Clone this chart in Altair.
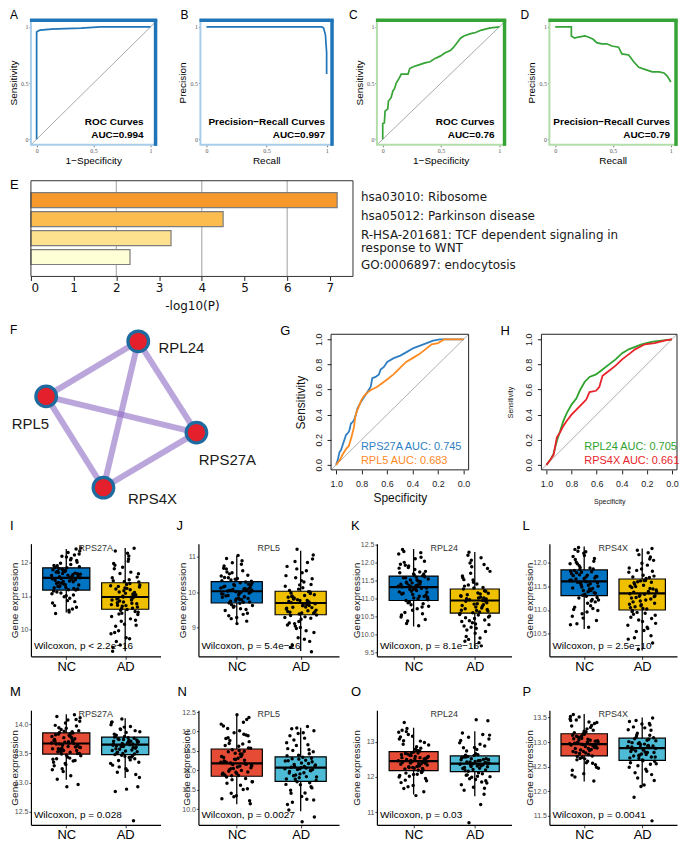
import altair as alt
import pandas as pd

FONT = "Liberation Sans"
ONE = pd.DataFrame({"k": [0]})

# ---------------- Panels A-D (ROC / PR) ----------------
A_FPR = [0, 0, 0.01, 0.03, 0.13, 0.25, 0.39, 0.56, 1.0]
A_TPR = [0, 0.955, 0.962, 0.972, 0.98, 0.985, 0.99, 1.0, 1.0]
B_RECALL = [0, 0.96, 0.975, 0.99, 1.0, 1.0]
B_PRECISION = [1, 1, 0.99, 0.93, 0.77, 0.58]
C_FPR = [0, 0, 0.014, 0.02, 0.043, 0.049, 0.072, 0.087, 0.101, 0.116, 0.145, 0.159, 0.217, 0.232,
         0.261, 0.304, 0.362, 0.406, 0.449, 0.493, 0.536, 0.58, 0.609, 0.638, 0.667, 0.696, 0.754,
         0.797, 0.841, 0.913, 1.0]
C_TPR = [0, 0.14, 0.145, 0.25, 0.27, 0.34, 0.37, 0.43, 0.45, 0.5, 0.55, 0.58, 0.58, 0.63, 0.645,
         0.66, 0.68, 0.69, 0.72, 0.74, 0.77, 0.79, 0.82, 0.86, 0.9, 0.92, 0.94, 0.95, 0.97, 0.99, 1.0]
D_RECALL = [0, 0.14, 0.14, 0.169, 0.2, 0.257, 0.286, 0.329, 0.359, 0.402, 0.446, 0.49, 0.548, 0.577,
            0.636, 0.679, 0.723, 0.781, 0.84, 0.898, 0.942, 0.971, 1.0]
D_PRECISION = [1, 1, 0.92, 0.9, 0.91, 0.92, 0.91, 0.89, 0.86, 0.85, 0.85, 0.83, 0.82, 0.76, 0.75,
               0.69, 0.64, 0.62, 0.6, 0.6, 0.59, 0.56, 0.51]
PERF_DIAG = [-0.05, 1.06]
PERF_TICKS = [0, 0.5, 1]

# ---------------- Panel E (enrichment) ----------------
E_TERMS = ["hsa03010: Ribosome", "hsa05012: Parkinson disease",
           "R-HSA-201681: TCF dependent signaling in\nresponse to WNT", "GO:0006897: endocytosis"]
E_LOG10P = [7.17, 4.5, 3.28, 2.32]
E_COLORS = ["#F7982B", "#FCBD4E", "#FEE18E", "#FFFFD6"]
E_TICKS = [0, 1, 2, 3, 4, 5, 6, 7]
E_GRID = [2, 4, 6]

# ---------------- Panel F (network) ----------------
F_NODES = ["RPL24", "RPL5", "RPS27A", "RPS4X"]
F_NODE_X = [4.72, 0.67, 7.28, 3.19]
F_NODE_Y = [0.31, 2.75, 4.35, 6.79]
F_LABEL_X = [6.62, -0.02, 8.64, 5.35]
F_LABEL_Y = [0.61, 3.99, 5.56, 7.27]
F_EDGES = [("RPL24", "RPL5"), ("RPL24", "RPS27A"), ("RPL24", "RPS4X"),
           ("RPL5", "RPS27A"), ("RPL5", "RPS4X"), ("RPS27A", "RPS4X")]

# ---------------- Panels G, H (ROC, pROC style) ----------------
G_RPS27A_SPEC = [1.0, 0.987, 0.974, 0.961, 0.948, 0.935, 0.922, 0.91, 0.897, 0.884, 0.871, 0.858, 0.845,
                 0.832, 0.806, 0.78, 0.755, 0.729, 0.716, 0.69, 0.664, 0.651, 0.625, 0.599, 0.548, 0.496,
                 0.444, 0.393, 0.341, 0.289, 0.238, 0.186, 0.0]
G_RPS27A_SENS = [0.0, 0.04, 0.10, 0.12, 0.16, 0.2, 0.24, 0.25, 0.27, 0.33, 0.34, 0.36, 0.40, 0.45, 0.50,
                 0.54, 0.58, 0.62, 0.69, 0.70, 0.72, 0.76, 0.78, 0.82, 0.85, 0.87, 0.90, 0.93, 0.95, 0.97,
                 0.99, 1.0, 1.0]
G_RPL5_SPEC = [1.0, 0.97, 0.95, 0.92, 0.9, 0.88, 0.86, 0.85, 0.84, 0.82, 0.8, 0.78, 0.75, 0.72, 0.68,
               0.64, 0.6, 0.55, 0.5, 0.45, 0.4, 0.35, 0.3, 0.25, 0.2, 0.15, 0.0]
G_RPL5_SENS = [0.0, 0.04, 0.08, 0.13, 0.15, 0.22, 0.3, 0.38, 0.42, 0.47, 0.52, 0.55, 0.58, 0.6, 0.62,
               0.65, 0.68, 0.72, 0.77, 0.82, 0.85, 0.88, 0.92, 0.96, 0.97, 1.0, 1.0]
H_RPL24_SPEC = [1.0, 0.969, 0.943, 0.917, 0.891, 0.865, 0.839, 0.8, 0.761, 0.735, 0.696, 0.657, 0.605,
                0.553, 0.501, 0.449, 0.397, 0.345, 0.294, 0.242, 0.164, 0.086, 0.0]
H_RPL24_SENS = [0.0, 0.04, 0.09, 0.19, 0.27, 0.35, 0.41, 0.48, 0.53, 0.59, 0.66, 0.70, 0.72, 0.76, 0.80,
                0.84, 0.89, 0.92, 0.94, 0.96, 0.98, 0.99, 1.0]
H_RPS4X_SPEC = [1.0, 0.969, 0.943, 0.917, 0.891, 0.865, 0.839, 0.8, 0.761, 0.722, 0.683, 0.657, 0.605,
                0.579, 0.553, 0.501, 0.449, 0.397, 0.345, 0.294, 0.216, 0.138, 0.06, 0.0]
H_RPS4X_SENS = [0.0, 0.04, 0.08, 0.22, 0.26, 0.31, 0.35, 0.40, 0.44, 0.48, 0.52, 0.58, 0.59, 0.62, 0.71,
                0.75, 0.79, 0.84, 0.88, 0.92, 0.96, 0.97, 0.99, 1.0]
GH_TICKS = [0, 0.2, 0.4, 0.6, 0.8, 1.0]
GH_DIAG_SPEC = [1.04, -0.04]
GH_DIAG_SENS = [-0.04, 1.04]

# ---------------- Panels I-P (box plots) ----------------
BOX_GROUPS = ["NC", "AD"]
ROW4_COLORS = ["#0073C2", "#EFC000"]
ROW5_COLORS = ["#E64B35", "#4DBBD5"]

I_NC = [11.62, 10.93, 11.41, 12.07, 11.77, 11.25, 10.61, 11.53, 11.88, 12.31, 11.12, 11.69, 11.36, 10.79,
        11.95, 11.58, 11.21, 12.18, 11.47, 11.03, 11.81, 11.66, 10.52, 11.29, 12.42, 11.74, 11.15, 11.51,
        11.99, 11.33, 10.86, 11.72, 12.24, 11.44, 11.07, 11.57, 11.83, 12.02, 11.26, 10.71, 11.64, 11.39,
        12.36, 11.19, 11.91, 11.49, 10.98, 11.79, 12.13, 11.31, 11.6, 11.85, 10.47, 11.23, 11.68, 12.45,
        11.45, 11.71, 10.66, 11.34, 11.92, 11.58, 11.09, 12.27, 11.63, 11.38, 10.83, 11.76, 11.52, 12.09,
        11.28, 11.67, 11.01, 11.86, 11.43, 12.2, 11.55, 10.57, 11.74, 11.18]
I_AD = [10.82, 11.55, 10.31, 11.12, 10.67, 9.74, 11.93, 10.95, 10.48, 11.31, 12.21, 10.72, 11.04, 10.15,
        11.46, 10.88, 9.52, 11.67, 10.59, 11.21, 12.44, 10.99, 10.38, 11.38, 9.95, 10.77, 11.08, 11.82,
        10.63, 10.24, 11.27, 12.05, 10.91, 10.53, 11.16, 9.33, 11.72, 10.85, 10.44, 11.35, 12.36, 11.01,
        10.69, 9.86, 11.49, 10.94, 10.12, 11.24, 11.98, 10.78, 10.57, 11.42, 12.29, 9.63, 11.11, 10.97,
        10.88, 11.19, 10.46, 11.57, 10.71, 9.9, 11.06, 10.62, 11.33, 12.12, 10.8, 10.27, 11.44, 9.45,
        10.96, 11.68, 10.51, 11.23, 10.09, 11.02, 11.87, 10.74, 9.71, 11.29]
J_NC = [10.12, 9.54, 10.41, 9.83, 10.02, 10.68, 9.72, 9.26, 10.21, 9.93, 10.95, 10.07, 9.61, 10.33, 9.79,
        10.52, 9.98, 9.12, 10.17, 9.88, 10.83, 10.26, 9.69, 10.04, 9.41, 10.37, 9.95, 10.61, 9.75, 10.14,
        11.04, 9.9, 10.29, 9.58, 10.46, 10.0, 9.34, 10.23, 9.81, 10.74, 10.09, 9.65, 10.31, 9.97, 10.57,
        9.19, 10.19, 9.86, 10.89, 10.05, 9.73, 10.39, 9.49, 10.11,
        10.08, 9.63, 10.27, 9.91, 10.48, 9.77, 10.15, 9.38, 10.35, 10.01, 9.84, 10.66, 9.52, 10.22, 9.96,
        10.79, 9.7, 10.11, 9.29, 10.42, 9.87, 10.55, 10.06, 9.8]
J_AD = [9.71, 10.22, 9.18, 9.55, 10.61, 9.84, 8.87, 9.42, 10.05, 9.63, 11.21, 9.29, 9.91, 8.51, 10.38,
        9.77, 9.46, 10.84, 9.05, 9.68, 10.13, 9.35, 9.97, 8.72, 10.47, 9.59, 9.81, 11.05, 9.24, 9.74, 10.02,
        8.98, 9.5, 10.29, 9.88, 8.33, 9.39, 10.73, 9.66, 9.12, 9.93, 10.55, 9.44, 8.62, 9.79, 10.17, 9.31,
        9.58, 10.94, 9.01, 9.86, 9.48, 10.41, 9.69,
        9.65, 9.98, 9.27, 10.09, 9.53, 8.92, 9.82, 9.41, 10.33, 9.14, 9.73, 10.66, 9.36, 8.68, 9.9, 9.57,
        10.21, 9.08, 9.77, 10.87, 9.45, 9.62, 8.45, 10.01]
K_NC = [11.35, 10.72, 11.58, 12.04, 11.12, 10.49, 11.41, 11.87, 10.98, 11.27, 12.31, 11.64, 10.83, 11.19,
        11.49, 10.31, 11.76, 11.02, 11.33, 12.15, 10.91, 11.55, 11.23, 10.62, 11.69, 11.44, 11.96, 11.07,
        10.38, 11.3, 11.81, 11.15, 10.77, 11.52, 12.24, 11.38, 10.95, 11.61, 11.26, 10.55, 11.47, 11.91,
        11.04, 11.36, 12.01, 10.86, 11.21, 11.72, 10.25, 11.43, 11.1, 11.66, 12.37, 11.29,
        11.26, 10.79, 11.52, 11.93, 11.06, 10.68, 11.4, 11.74, 10.89, 11.18, 12.11, 11.58, 10.58, 11.33,
        11.85, 11.0, 11.46, 10.42, 11.69, 11.13, 12.28, 11.37, 10.97, 11.6]
K_AD = [10.93, 10.41, 11.52, 10.68, 11.13, 9.87, 11.84, 10.77, 10.24, 11.31, 12.07, 10.56, 11.02, 10.13,
        11.21, 10.85, 11.63, 9.69, 10.97, 10.49, 11.41, 10.72, 11.95, 10.33, 11.08, 10.63, 12.21, 10.89,
        10.04, 11.27, 10.79, 11.71, 10.52, 11.16, 9.95, 10.94, 11.46, 10.37, 11.04, 12.29, 10.66, 10.18,
        11.35, 10.83, 11.89, 10.59, 9.78, 11.11, 10.99, 10.45, 11.58, 10.74, 11.99, 10.28,
        10.86, 10.47, 11.22, 10.61, 11.07, 9.91, 11.38, 10.7, 10.3, 11.53, 10.95, 10.21, 11.76, 10.55,
        11.0, 10.09, 11.3, 10.81, 12.14, 10.39, 11.15, 10.67, 9.82, 11.02]
L_NC = [11.62, 11.14, 11.78, 12.08, 11.41, 10.87, 11.55, 11.93, 11.26, 11.69, 12.27, 11.03, 11.48, 11.81,
        10.64, 11.58, 11.35, 12.14, 11.72, 11.19, 11.89, 11.5, 10.96, 11.65, 12.02, 11.31, 11.76, 11.44,
        12.31, 10.78, 11.6, 11.83, 11.22, 11.53, 11.97, 11.38, 10.71, 11.67, 12.19, 11.46, 11.09, 11.74,
        11.57, 11.29, 12.06, 11.86, 10.92, 11.63, 11.4, 12.23, 11.7, 11.33, 11.01, 11.8,
        11.56, 11.21, 11.73, 12.0, 11.36, 10.83, 11.61, 11.88, 11.25, 11.7, 12.22, 11.06, 11.45, 11.79,
        10.69, 11.52, 11.97, 11.17, 11.66, 12.12, 11.41, 11.85, 10.99, 11.59]
L_AD = [11.37, 10.82, 11.61, 11.12, 11.94, 10.55, 11.28, 11.73, 10.97, 11.45, 12.16, 10.68, 11.21, 11.54,
        10.31, 11.86, 11.05, 11.39, 12.25, 10.89, 11.62, 11.17, 10.46, 11.31, 11.79, 11.02, 11.49, 12.04,
        10.76, 11.25, 11.68, 10.18, 11.42, 10.93, 11.57, 12.29, 11.09, 11.34, 10.61, 11.83, 11.14, 11.52,
        10.99, 12.11, 11.29, 10.39, 11.66, 11.07, 11.44, 11.98, 10.85, 11.36, 11.59, 10.72,
        11.33, 10.91, 11.58, 11.19, 11.88, 10.64, 11.26, 11.71, 11.03, 11.47, 12.07, 10.79, 11.39, 11.62,
        10.42, 11.81, 11.11, 11.5, 12.2, 10.95, 11.3, 10.57, 11.69, 11.23]
M_NC = [13.68, 13.42, 13.83, 13.55, 14.02, 13.29, 13.71, 13.91, 13.5, 13.62, 14.13, 13.38, 13.77, 13.58,
        13.12, 13.86, 13.65, 13.47, 13.98, 13.73, 13.24, 13.6, 13.81, 13.53, 14.08, 13.69, 13.35, 13.76,
        13.57, 13.89, 13.44, 13.66, 14.16, 13.19, 13.79, 13.52, 13.94, 13.63, 13.31, 13.74, 13.85, 13.49,
        14.05, 13.7, 13.06, 13.61, 13.88, 13.4, 13.78, 13.56, 12.97, 12.93, 13.82, 13.67,
        13.64, 13.46, 13.8, 13.58, 13.97, 13.33, 13.72, 13.87, 13.53, 13.61, 14.07, 13.41, 13.75, 13.55,
        13.22, 13.84, 13.66, 13.5, 13.93, 13.71, 13.37, 13.59, 14.11, 13.68]
M_AD = [13.63, 13.41, 13.74, 13.55, 13.96, 13.27, 13.69, 13.86, 13.48, 13.6, 14.09, 13.33, 13.72, 13.52,
        13.14, 13.79, 13.66, 13.44, 13.92, 13.7, 13.21, 13.58, 13.76, 13.5, 14.03, 13.65, 13.38, 13.73,
        13.54, 13.83, 13.46, 13.62, 13.09, 13.77, 13.51, 13.89, 13.64, 13.3, 13.71, 13.57, 12.93, 12.89,
        12.85, 12.35, 13.67, 13.99, 13.43, 13.75,
        13.61, 13.45, 13.71, 13.56, 13.91, 13.35, 13.68, 13.81, 13.49, 13.62, 14.04, 13.39, 13.74, 13.53,
        13.24, 13.78, 13.66, 13.47, 13.87, 13.7, 13.18, 13.59, 13.95, 13.64]
N_NC = [11.21, 10.62, 11.48, 11.89, 10.95, 11.33, 12.24, 10.41, 11.07, 11.62, 10.83, 11.16, 11.97, 10.27,
        11.39, 11.02, 11.74, 12.43, 10.88, 11.26, 11.53, 10.71, 11.11, 12.08, 10.53, 11.44, 10.93, 11.68,
        11.19, 10.14, 11.31, 11.82, 10.79, 11.05, 12.19, 11.36, 10.98, 11.58, 10.35, 11.24, 11.93, 10.86,
        11.13, 11.51, 10.67, 12.31, 11.29, 10.9, 11.42, 11.77, 10.22, 11.09, 11.64, 11.17,
        11.15, 10.71, 11.42, 11.84, 10.96, 11.28, 12.14, 10.51, 11.04, 11.57, 10.87, 11.21, 11.91, 10.32,
        11.36, 11.0, 11.69, 12.36, 10.92, 11.23, 11.49, 10.76, 11.12, 12.02]
N_AD = [11.08, 10.58, 11.29, 11.71, 10.84, 11.15, 12.02, 10.33, 10.97, 11.43, 10.71, 11.04, 11.83, 10.18,
        11.22, 10.91, 11.56, 12.13, 10.77, 11.12, 11.34, 10.49, 11.0, 11.95, 10.64, 11.26, 10.86, 11.48,
        11.07, 9.98, 11.18, 11.64, 10.74, 10.94, 12.07, 11.31, 10.81, 11.38, 10.26, 11.1, 9.8, 9.68, 11.89,
        10.68, 11.02, 11.24, 10.42, 11.51,
        11.02, 10.63, 11.25, 11.66, 10.88, 11.14, 11.97, 10.41, 10.99, 11.39, 10.78, 11.06, 11.78, 10.24,
        11.19, 10.93, 11.53, 12.09, 10.83, 11.1, 11.3, 10.55, 11.04, 10.12]
O_NC = [12.46, 12.08, 12.67, 12.98, 12.27, 11.84, 12.55, 13.21, 12.34, 12.79, 11.67, 12.42, 12.61, 13.08,
        12.19, 12.5, 11.96, 12.71, 13.33, 12.37, 12.02, 12.58, 12.86, 12.23, 11.58, 12.44, 13.14, 12.31,
        12.65, 11.89, 12.52, 12.93, 12.15, 12.4, 13.27, 12.75, 12.11, 12.48, 11.76, 12.63, 13.02, 12.29,
        12.56, 11.47, 13.55, 12.2, 12.69, 12.04, 12.38, 13.38, 12.53, 12.25,
        12.42, 12.13, 12.62, 12.91, 12.3, 11.91, 12.51, 13.16, 12.36, 12.74, 11.72, 12.45, 12.58, 13.03,
        12.24, 12.47, 12.0, 12.68, 13.29, 12.39, 12.07, 12.55, 12.82, 12.27]
O_AD = [12.39, 12.02, 12.57, 12.88, 12.21, 11.78, 12.47, 13.13, 12.29, 12.66, 11.62, 12.35, 12.52, 12.97,
        12.12, 12.43, 11.89, 12.61, 13.25, 12.32, 11.95, 12.49, 12.78, 12.18, 11.51, 12.37, 13.04, 12.25,
        12.58, 11.83, 12.44, 12.83, 12.09, 12.34, 13.19, 12.63, 12.05, 12.41, 11.71, 12.55, 11.22, 10.7,
        13.6, 13.63, 12.27, 12.5, 11.99, 12.36,
        12.35, 12.06, 12.52, 12.84, 12.24, 11.86, 12.43, 13.08, 12.31, 12.62, 11.68, 12.38, 12.49, 12.93,
        12.16, 12.4, 11.93, 12.57, 13.21, 12.3, 12.01, 12.46, 12.74, 12.2]
P_NC = [12.97, 12.61, 13.12, 13.38, 12.81, 12.43, 13.04, 13.51, 12.88, 13.21, 12.29, 12.93, 13.08, 13.44,
        12.75, 12.99, 12.54, 13.16, 13.56, 12.85, 12.67, 13.01, 13.27, 12.79, 12.21, 12.95, 13.33, 12.83,
        13.1, 12.49, 12.91, 13.19, 12.72, 12.96, 13.47, 13.06, 12.64, 12.89, 12.36, 13.14, 13.3, 12.77,
        13.03, 12.58, 12.87, 13.24, 12.69, 12.94, 13.41, 13.0,
        12.93, 12.66, 13.07, 13.34, 12.84, 12.47, 13.0, 13.45, 12.9, 13.17, 12.33, 12.96, 13.05, 13.4,
        12.78, 12.98, 12.57, 13.12, 13.52, 12.87, 12.71, 13.02, 13.22, 12.81]
P_AD = [12.89, 12.52, 13.03, 13.29, 12.72, 12.34, 12.95, 13.42, 12.79, 13.11, 12.22, 12.84, 12.99, 13.35,
        12.67, 12.91, 12.45, 13.07, 13.49, 12.76, 12.58, 12.93, 13.18, 12.7, 12.13, 12.86, 13.24, 12.74,
        13.01, 12.41, 12.82, 13.09, 12.64, 12.87, 13.38, 12.97, 12.56, 12.8, 11.88, 11.4, 12.1, 12.68,
        12.92, 13.14, 12.61, 12.85,
        12.86, 12.55, 12.99, 13.25, 12.75, 12.38, 12.92, 13.37, 12.81, 13.06, 12.27, 12.87, 12.96, 13.31,
        12.7, 12.89, 12.49, 13.04, 13.44, 12.79, 12.62, 12.9, 13.14, 12.73]

# box statistics: q1, median, q3, lower whisker, upper whisker
I_BOX = [[11.18, 11.55, 11.85, 10.5, 12.42], [10.6, 10.97, 11.4, 9.33, 12.45]]
J_BOX = [[9.7, 10.03, 10.3, 9.1, 11.03], [9.37, 9.7, 10.03, 8.35, 11.17]]
K_BOX = [[10.95, 11.32, 11.63, 10.23, 12.38], [10.6, 10.95, 11.27, 9.6, 12.3]]
L_BOX = [[11.3, 11.6, 11.84, 10.6, 12.33], [11.0, 11.35, 11.65, 10.15, 12.29]]
M_BOX = [[13.49, 13.67, 13.85, 13.05, 14.17], [13.48, 13.65, 13.78, 13.08, 14.1]]
N_BOX = [[10.85, 11.18, 11.55, 10.13, 12.45], [10.72, 11.07, 11.35, 9.95, 12.1]]
O_BOX = [[12.18, 12.45, 12.72, 11.5, 13.4], [12.15, 12.38, 12.6, 11.45, 13.3]]
P_BOX = [[12.72, 12.96, 13.17, 12.2, 13.57], [12.63, 12.88, 13.08, 12.1, 13.5]]

I_TICKS = [10, 11, 12]
J_TICKS = [9, 10, 11]
K_TICKS = [9.5, 10, 10.5, 11, 11.5, 12, 12.5]
L_TICKS = [10.5, 11, 11.5, 12]
M_TICKS = [12.5, 13, 13.5, 14]
N_TICKS = [10, 10.5, 11, 11.5, 12, 12.5]
O_TICKS = [11, 12, 13]
P_TICKS = [11.5, 12, 12.5, 13, 13.5]


# ---------------- helpers ----------------
def txt(s, x, y, size, color="black", align="left", baseline="middle", weight="normal",
        font=FONT, dy=0):
    mk = dict(align=align, baseline=baseline, fontSize=size, font=font, color=color,
              fontWeight=weight, dy=dy)
    return alt.Chart(pd.DataFrame({"t": [s]})).mark_text(**mk).encode(
        text="t:N", x=alt.value(x), y=alt.value(y))


def letter(s, dx, dy, size=13):
    return txt(s, dx, dy, size, baseline="top")


def frame(W, H, color, width):
    return alt.Chart(ONE).mark_rect(fill="white", fillOpacity=0, stroke=color, strokeWidth=width).encode(
        x=alt.value(0), x2=alt.value(W), y=alt.value(0), y2=alt.value(H))


def perf_panel(xs, ys, dark, light, xtitle, ytitle, lab1, lab2, let, let_dx, W, H, lab_dx, roc):
    df = pd.DataFrame({"x": xs, "y": ys, "i": list(range(len(xs)))})
    sx = alt.Scale(domain=[-0.05, 1.045], nice=False, zero=False)
    sy = alt.Scale(domain=[-0.05, 1.06], nice=False, zero=False)
    common = dict(values=PERF_TICKS, format="~g", domain=False, grid=False, tickSize=2,
                  tickColor="#777", labelFont="Liberation Serif", labelFontSize=6,
                  labelColor="#555", labelPadding=1, titleFont=FONT, titleFontSize=10,
                  titleFontWeight="normal", titleColor="black")
    ax = alt.Axis(title=xtitle, titleY=11, **common)
    ay = alt.Axis(title=ytitle, titleX=-12.5, titleY=H / 2, **common)
    layers = []
    if roc:
        dg = pd.DataFrame({"x": PERF_DIAG, "y": PERF_DIAG})
        layers.append(alt.Chart(dg).mark_line(color="#a9a9a9", strokeWidth=1, clip=True).encode(
            x=alt.X("x:Q", scale=sx, axis=ax), y=alt.Y("y:Q", scale=sy, axis=ay)))
    layers.append(alt.Chart(df).mark_line(color=dark, strokeWidth=1.7).encode(
        x=alt.X("x:Q", scale=sx, axis=ax), y=alt.Y("y:Q", scale=sy, axis=ay), order="i:Q"))
    layers.append(frame(W, H, light, 2))
    layers.append(alt.Chart(ONE).mark_rule(color=dark, strokeWidth=3.5).encode(
        x=alt.value(-1), x2=alt.value(W + 1.75), y=alt.value(0)))
    layers.append(alt.Chart(ONE).mark_rule(color=dark, strokeWidth=3.5).encode(
        x=alt.value(W), y=alt.value(0), y2=alt.value(H + 1)))
    layers.append(txt(lab1, W - lab_dx, H - 20, 10, align="right", baseline="alphabetic", weight="bold"))
    layers.append(txt(lab2, W - lab_dx, H - 7, 10, align="right", baseline="alphabetic", weight="bold"))
    layers.append(letter(let, let_dx, -10, 12))
    return alt.layer(*layers).properties(width=W, height=H)


def enrichment_panel(W, H):
    df = pd.DataFrame({"term": E_TERMS, "v": E_LOG10P, "color": E_COLORS})
    sx = alt.Scale(domain=[0, 7.54], nice=False, zero=False)
    sy = alt.Scale(domain=E_TERMS, paddingInner=0.21, paddingOuter=0.63)
    ax = alt.Axis(values=E_TICKS, format="d", title="-log10(P)", domain=False, grid=False, tickSize=4,
                  tickColor="#222", labelFont="DejaVu Sans", labelFontSize=12, labelColor="#111",
                  labelPadding=2, titleFont="DejaVu Sans", titleFontSize=12, titleFontWeight="normal",
                  titleColor="#111", titleY=24)
    grid = alt.Chart(pd.DataFrame({"g": E_GRID})).mark_rule(color="#b5b5b5", strokeWidth=1.3).encode(
        x=alt.X("g:Q", scale=sx, axis=ax))
    bars = alt.Chart(df).mark_bar(stroke="#7d7d7d", strokeWidth=1.2).encode(
        x=alt.X("v:Q", scale=sx, axis=ax), y=alt.Y("term:N", scale=sy, axis=None),
        fill=alt.Fill("color:N", scale=None))
    layers = [grid, bars, frame(W, H, "#333333", 1)]
    label_dy = [-3, -3, -3, 8]
    for i in range(len(E_TERMS)):
        layers.append(alt.Chart(df.iloc[[i]]).mark_text(
            align="left", baseline="middle", fontSize=12, font="DejaVu Sans", color="#1a1a1a",
            lineBreak="\n", lineHeight=13, dy=label_dy[i]).encode(
            text="term:N", x=alt.value(W + 8), y=alt.Y("term:N", scale=sy, axis=None)))
    layers.append(letter("E", -21, -2))
    return alt.layer(*layers).properties(width=W, height=H)


def network_panel(W, H):
    nodes = pd.DataFrame({"name": F_NODES, "x": F_NODE_X, "y": F_NODE_Y, "lx": F_LABEL_X, "ly": F_LABEL_Y})
    pos = {n: (x, y) for n, x, y in zip(F_NODES, F_NODE_X, F_NODE_Y)}
    edges = pd.DataFrame([{"x": pos[a][0], "y": pos[a][1], "x2": pos[b][0], "y2": pos[b][1]}
                          for a, b in F_EDGES])
    sx = alt.Scale(domain=[0, 10], nice=False, zero=False)
    sy = alt.Scale(domain=[0, 6], nice=False, zero=False, reverse=True)
    e = alt.Chart(edges).mark_rule(color="#8E6BC4", opacity=0.6, strokeWidth=6).encode(
        x=alt.X("x:Q", scale=sx, axis=None), y=alt.Y("y:Q", scale=sy, axis=None), x2="x2:Q", y2="y2:Q")
    outer = alt.Chart(nodes).mark_circle(size=570, color="#1D6B9F", opacity=1).encode(
        x=alt.X("x:Q", scale=sx, axis=None), y=alt.Y("y:Q", scale=sy, axis=None))
    inner = alt.Chart(nodes).mark_circle(size=300, color="#E3202B", opacity=1).encode(
        x=alt.X("x:Q", scale=sx, axis=None), y=alt.Y("y:Q", scale=sy, axis=None))
    lab = alt.Chart(nodes).mark_text(fontSize=15, font=FONT, color="#1a1a1a", align="center",
                                     baseline="middle").encode(
        x=alt.X("lx:Q", scale=sx, axis=None), y=alt.Y("ly:Q", scale=sy, axis=None), text="name:N")
    return alt.layer(e, outer, inner, lab, letter("F", -21, -9, 12)).properties(width=W, height=H)


def roc_pair_panel(series, let, let_dx, W, H, tsize, tx, ty, leg_x):
    rows = []
    for name, sp, se, col, lab in series:
        for i, (a, b) in enumerate(zip(sp, se)):
            rows.append({"name": name, "spec": a, "sens": b, "i": i, "col": col})
    df = pd.DataFrame(rows)
    sx = alt.Scale(domain=[-0.04, 1.04], reverse=True, nice=False, zero=False)
    sy = alt.Scale(domain=[-0.04, 1.04], nice=False, zero=False)
    common = dict(values=GH_TICKS, format=".1f", domain=False, grid=False, tickSize=4,
                  tickColor="#222", labelFont=FONT, labelFontSize=9, labelColor="#222",
                  titleFont=FONT, titleFontSize=tsize, titleFontWeight="normal", titleColor="#111")
    ax = alt.Axis(title="Specificity", titleY=ty, labelPadding=6, **common)
    ay = alt.Axis(title="Sensitivity", titleX=tx, titleY=H / 2, labelAngle=270, labelAlign="center",
                  labelBaseline="bottom", labelPadding=4, **common)
    dg = pd.DataFrame({"spec": GH_DIAG_SPEC, "sens": GH_DIAG_SENS})
    diag = alt.Chart(dg).mark_line(color="#b0b0b0", strokeWidth=1, clip=True).encode(
        x=alt.X("spec:Q", scale=sx, axis=ax), y=alt.Y("sens:Q", scale=sy, axis=ay))
    lines = alt.Chart(df).mark_line(strokeWidth=1.8).encode(
        x=alt.X("spec:Q", scale=sx, axis=ax), y=alt.Y("sens:Q", scale=sy, axis=ay), order="i:Q",
        color=alt.Color("col:N", scale=None), detail="name:N")
    layers = [diag, lines, frame(W, H, "#222", 1)]
    for k, s in enumerate(series):
        layers.append(txt(s[4], leg_x, H - 23 + 14 * k, 11, color=s[3]))
    layers.append(letter(let, let_dx, -9, 13))
    return alt.layer(*layers).properties(width=W, height=H)


def jitter(k):
    return ((k * 0.6180339887) % 1.0) - 0.5


def box_panel(let, let_dx, let_dy, gene, nc, ad, box, dom, ticks, fmt, ptext, colors, W, H, title_x):
    vals = nc + ad
    pts = pd.DataFrame({"idx": [1] * len(nc) + [2] * len(ad), "value": vals,
                        "jit": [jitter(k) for k in range(len(vals))]})
    st = pd.DataFrame({"idx": [1, 2], "q1": [b[0] for b in box], "med": [b[1] for b in box],
                       "q3": [b[2] for b in box], "lo": [b[3] for b in box], "hi": [b[4] for b in box],
                       "color": colors})
    sx = alt.Scale(domain=[0.4, 2.6], nice=False, zero=False)
    sy = alt.Scale(domain=dom, nice=False, zero=False)
    ax = alt.Axis(values=[1, 2], labelExpr=f"datum.value == 1 ? '{BOX_GROUPS[0]}' : '{BOX_GROUPS[1]}'",
                  title=None, grid=False, domainColor="black", domainWidth=1.2, tickColor="#333",
                  tickSize=3, labelFont=FONT, labelFontSize=13, labelColor="black", labelPadding=1)
    ay = alt.Axis(values=ticks, format=fmt, title="Gene expression", titleX=title_x, titleY=H / 2,
                  titleFont=FONT, titleFontSize=10, titleFontWeight="normal", titleColor="#111",
                  grid=False, domainColor="black", domainWidth=1.2, tickColor="#444", tickSize=2,
                  labelFont=FONT, labelFontSize=7, labelColor="#4d4d4d", labelPadding=1)
    base = alt.Chart(st)
    whisk = base.mark_rule(color="black", strokeWidth=1.3).encode(
        x=alt.X("idx:Q", scale=sx, axis=ax), y=alt.Y("lo:Q", scale=sy, axis=ay), y2="hi:Q")
    rect = base.transform_calculate(x0="datum.idx - 0.4", x1="datum.idx + 0.4").mark_rect(
        stroke="black", strokeWidth=1.2).encode(
        x=alt.X("x0:Q", scale=sx, axis=ax), x2="x1:Q", y=alt.Y("q1:Q", scale=sy, axis=ay), y2="q3:Q",
        fill=alt.Fill("color:N", scale=None))
    med = base.transform_calculate(x0="datum.idx - 0.4", x1="datum.idx + 0.4").mark_rule(
        color="black", strokeWidth=2.2).encode(
        x=alt.X("x0:Q", scale=sx, axis=ax), x2="x1:Q", y=alt.Y("med:Q", scale=sy, axis=ay))
    dots = alt.Chart(pts).transform_calculate(xj="datum.idx + datum.jit * 0.5").mark_circle(
        size=12, color="black", opacity=1).encode(
        x=alt.X("xj:Q", scale=sx, axis=ax), y=alt.Y("value:Q", scale=sy, axis=ay))
    layers = [whisk, rect, med, dots,
              txt(gene, W / 2, 4, 9, color="#333", align="center"),
              txt(ptext, 3, H - 10, 10),
              letter(let, let_dx, let_dy, 13)]
    return alt.layer(*layers).properties(width=W, height=H)


# ---------------- assemble ----------------
H1 = 125
pA = perf_panel(A_FPR, A_TPR, "#1F75B8", "#A8CDEB", "1\u2212Specificity", "Sensitivity",
                "ROC Curves", "AUC=0.994", "A", -21, 125, H1, 12, True)
pB = perf_panel(B_RECALL, B_PRECISION, "#1F75B8", "#A8CDEB", "Recall", "Precision",
                "Precision\u2212Recall Curves", "AUC=0.997", "B", -20, 132, H1, 7, False)
pC = perf_panel(C_FPR, C_TPR, "#35A335", "#B3DEA9", "1\u2212Specificity", "Sensitivity",
                "ROC Curves", "AUC=0.76", "C", -28, 128, H1, 10, True)
pD = perf_panel(D_RECALL, D_PRECISION, "#35A335", "#B3DEA9", "Recall", "Precision",
                "Precision\u2212Recall Curves", "AUC=0.79", "D", -29, 127, H1, 6, False)
row1 = alt.hconcat(pA, pB, pC, pD, spacing=45, bounds="flush")

row2 = enrichment_panel(323, 96)

H3 = 136
pF = network_panel(228, H3)
pG = roc_pair_panel([("RPS27A", G_RPS27A_SPEC, G_RPS27A_SENS, "#2F7EC1", "RPS27A AUC: 0.745"),
                     ("RPL5", G_RPL5_SPEC, G_RPL5_SENS, "#FF8A1F", "RPL5 AUC: 0.683")],
                    "G", -51, 138, H3, 12, -24, 23, 30)
pH = roc_pair_panel([("RPL24", H_RPL24_SPEC, H_RPL24_SENS, "#2FA22F", "RPL24 AUC: 0.705"),
                     ("RPS4X", H_RPS4X_SPEC, H_RPS4X_SENS, "#E8232B", "RPS4X AUC: 0.661")],
                    "H", -41, 136, H3, 7, -27.5, 27.5, 43)
row3 = alt.hconcat(pF, pG, pH, spacing=73, bounds="flush")

H4, H5 = 113, 115
pI = box_panel("I", -21, -24, "RPS27A", I_NC, I_AD, I_BOX, [9.18, 12.58], I_TICKS, "d",
               "Wilcoxon, p < 2.2e\u221216", ROW4_COLORS, 130, H4, -11)
pJ = box_panel("J", -22, -24, "RPL5", J_NC, J_AD, J_BOX, [8.2, 11.37], J_TICKS, "d",
               "Wilcoxon, p = 5.4e\u221216", ROW4_COLORS, 141, H4, -11)
pK = box_panel("K", -26, -24, "RPL24", K_NC, K_AD, K_BOX, [9.4, 12.53], K_TICKS, ".1f",
               "Wilcoxon, p = 8.1e\u221216", ROW4_COLORS, 135, H4, -15)
pL = box_panel("L", -27, -24, "RPS4X", L_NC, L_AD, L_BOX, [10.03, 12.39], L_TICKS, ".1f",
               "Wilcoxon, p = 2.5e\u221210", ROW4_COLORS, 128, H4, -15)
row4 = alt.hconcat(pI, pJ, pK, pL, spacing=38, bounds="flush")

pM = box_panel("M", -21, -24, "RPS27A", M_NC, M_AD, M_BOX, [12.28, 14.24], M_TICKS, ".1f",
               "Wilcoxon, p = 0.028", ROW5_COLORS, 130, H5, -11)
pN = box_panel("N", -21, -24, "RPL5", N_NC, N_AD, N_BOX, [9.6, 12.55], N_TICKS, ".1f",
               "Wilcoxon, p = 0.0027", ROW5_COLORS, 141, H5, -7)
pO = box_panel("O", -26, -24, "RPL24", O_NC, O_AD, O_BOX, [10.64, 13.9], O_TICKS, "d",
               "Wilcoxon, p = 0.03", ROW5_COLORS, 135, H5, -15)
pP = box_panel("P", -27, -24, "RPS4X", P_NC, P_AD, P_BOX, [11.32, 13.65], P_TICKS, ".1f",
               "Wilcoxon, p = 0.0041", ROW5_COLORS, 128, H5, -15)
row5 = alt.hconcat(pM, pN, pO, pP, spacing=38, bounds="flush")

chart = alt.vconcat(row1, row2, row3, row4, row5, spacing=13).properties(
    padding=0).configure_view(stroke=None).configure_axis(labelFont=FONT, titleFont=FONT)

chart.save("out.html", embed_options={"renderer": "svg", "actions": False})
